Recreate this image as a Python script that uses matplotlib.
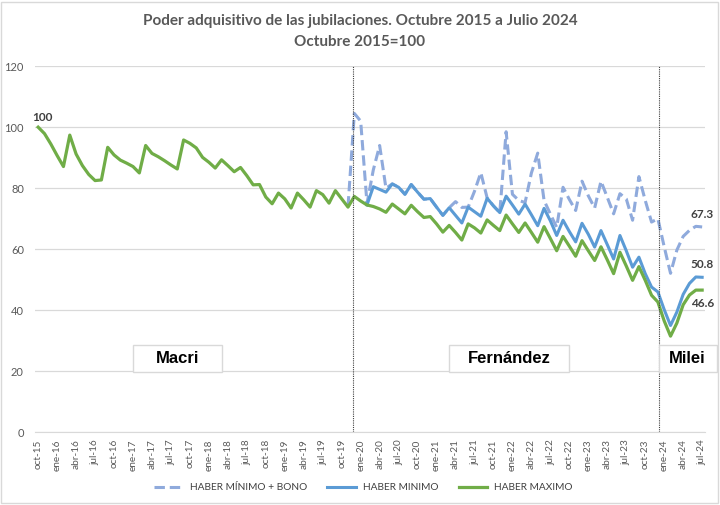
import numpy as np
import matplotlib.pyplot as plt
from matplotlib.patches import Rectangle
from matplotlib.lines import Line2D

# indices: 0 = oct-15 ... 105 = jul-24
haber_maximo = [100, 97.9, 94.5, 90.7, 87.1, 97.4, 91.2, 87.4, 84.5, 82.5,
                82.7, 93.4, 90.9, 89.2, 88.2, 87.1, 85.0, 94.0, 91.4, 90.3,
                89.0, 87.6, 86.3, 95.8, 94.7, 93.2, 90.1, 88.5, 86.6, 89.3,
                87.4, 85.4, 86.8, 84.1, 81.1, 81.2, 77.1, 74.9, 78.4, 76.5,
                73.5, 78.4, 76.2, 73.8, 79.2, 77.9, 75.1, 79.2, 76.5, 73.8,
                77.3, 75.8, 74.5, 74.0, 73.2, 72.1, 74.8, 73.2, 71.6, 74.4,
                72.3, 70.4, 70.7, 68.3, 65.6, 67.8, 65.5, 63.0, 68.3, 67.0,
                65.3, 69.6, 67.8, 66.1, 71.2, 68.3, 65.5, 68.6, 65.5, 62.3,
                67.4, 63.5, 59.5, 64.2, 61.0, 57.7, 62.8, 59.5, 56.3, 60.8,
                56.5, 52.0, 59.0, 54.5, 49.8, 54.3, 49.8, 44.9, 42.7, 36.5,
                31.5, 35.8, 41.8, 45.0, 46.6, 46.6]

# haber minimo, visible from feb-20 (index 52)
inicio_minimo = 52
haber_minimo = [74.5, 80.5, 79.6, 78.7, 81.4, 80.3, 78.0, 81.2, 78.7, 76.4,
                76.6, 73.8, 71.1, 73.6, 71.1, 68.6, 73.8, 72.3, 70.8, 76.7,
                74.2, 72.0, 77.4, 74.5, 71.5, 74.8, 71.3, 67.7, 73.4, 69.3,
                64.5, 69.5, 65.8, 62.4, 68.5, 64.9, 60.7, 66.1, 61.5, 56.8,
                64.5, 59.5, 54.1, 57.4, 52.0, 47.6, 46.0, 40.2, 35.0, 39.4,
                45.2, 48.8, 50.9, 50.8]

# haber minimo + bono, from nov-19 (index 49)
inicio_bono = 49
minimo_bono = [74.0, 104.5, 102.0, 75.0, 86.0, 94.0, 80.0, 81.4, 80.3, 78.0,
               81.2, 78.7, 76.4, 76.6, 73.8, 71.1, 73.6, 75.6, 73.7, 73.8,
               79.0, 85.1, 76.8, 74.2, 72.0, 98.5, 78.0, 76.0, 75.3, 85.0,
               91.5, 76.0, 71.5, 67.2, 80.3, 76.3, 72.7, 82.3, 77.5, 73.5,
               82.3, 77.0, 71.6, 78.2, 76.5, 69.5, 83.8, 76.0, 68.9, 70.0,
               60.8, 52.1, 59.7, 64.2, 66.2, 67.5, 67.3]

meses = ['ene', 'feb', 'mar', 'abr', 'may', 'jun', 'jul', 'ago', 'sep', 'oct', 'nov', 'dic']
etiquetas = [f"{meses[(9 + i) % 12]}-{15 + (9 + i) // 12}" for i in range(len(haber_maximo))]

gobiernos = ['Macri', 'Fernández', 'Milei']

GRIS = '#595959'
VERDE = '#70AD47'
AZUL = '#5B9BD5'
CELESTE = '#8FAADC'

fig = plt.figure(figsize=(7.2, 5.05), dpi=100)
fig.patches.append(Rectangle((0.002, 0.003), 0.995, 0.993, transform=fig.transFigure,
                             fill=False, ec='#D9D9D9', lw=1))
ax = fig.add_axes([0.0486, 0.144, 0.931, 0.725])

x = np.arange(len(haber_maximo))
x_min = np.arange(inicio_minimo, inicio_minimo + len(haber_minimo))
x_bono = np.arange(inicio_bono, inicio_bono + len(minimo_bono))

ax.plot(x_bono, minimo_bono, color=CELESTE, lw=2.2, ls=(0, (3.4, 1.6)),
        label='HABER MÍNIMO + BONO')
ax.plot(x_min, haber_minimo, color=AZUL, lw=2.2, label='HABER MINIMO')
ax.plot(x, haber_maximo, color=VERDE, lw=2.3, label='HABER MAXIMO')

ax.set_xlim(-0.5, len(haber_maximo) - 0.5)
ax.set_ylim(0, 120)
ax.set_yticks(range(0, 121, 20))
ax.grid(axis='y', color='#D9D9D9', lw=0.9)
ax.set_axisbelow(True)
for s in ['top', 'right', 'left']:
    ax.spines[s].set_visible(False)
ax.spines['bottom'].set_color('#D9D9D9')
ax.tick_params(axis='y', length=0, colors=GRIS, labelsize=8, pad=8)
ax.set_xticks(x[::3])
ax.set_xticklabels(etiquetas[::3], rotation=90, fontsize=7.2, color=GRIS)
ax.tick_params(axis='x', length=0, pad=5)
for t in ax.get_yticklabels() + ax.get_xticklabels():
    t.set_family('Lato')

# period separators
for xv in [49.8, 98.1]:
    ax.plot([xv, xv], [0, 120], color='#404040', lw=0.8, ls=(0, (1, 1)))

# period boxes
cajas = [(15.0, 29.1), (65.0, 83.9), (98.1, 107.3)]
for nombre, (x0, x1) in zip(gobiernos, cajas):
    ax.add_patch(Rectangle((x0, 19.8), x1 - x0, 8.9, fc='white', ec='#D9D9D9',
                           lw=1, clip_on=False, zorder=4))
    ax.text((x0 + x1) / 2, 24.2, nombre, ha='center', va='center', fontsize=12,
            fontweight='bold', family='Liberation Sans', color='black', zorder=5)

# data labels
ax.text(x[0] + 0.7, haber_maximo[0] + 1.5, f"{haber_maximo[0]:.0f}", ha='center', va='bottom',
        fontsize=8.5, fontweight='bold', family='Lato', color='#404040')
ax.text(x_bono[-1], minimo_bono[-1] + 2.3, f"{minimo_bono[-1]:.1f}", ha='center', va='bottom',
        fontsize=8.5, fontweight='bold', family='Lato', color='#404040')
ax.text(x_min[-1], haber_minimo[-1] + 2.3, f"{haber_minimo[-1]:.1f}", ha='center', va='bottom',
        fontsize=8.5, fontweight='bold', family='Lato', color='#404040')
ax.text(x[-1], haber_maximo[-1] - 2.6, f"{haber_maximo[-1]:.1f}", ha='center', va='top',
        fontsize=8.5, fontweight='bold', family='Lato', color='#404040')

fig.text(0.5, 0.958, 'Poder adquisitivo de las jubilaciones. Octubre 2015 a Julio 2024',
         ha='center', va='center', fontsize=11, fontweight='bold', family='Lato', color=GRIS)
fig.text(0.5, 0.917, 'Octubre 2015=100', ha='center', va='center', fontsize=11,
         fontweight='bold', family='Lato', color=GRIS)

handles = [Line2D([], [], color=CELESTE, lw=2.2, ls=(0, (3.4, 1.6))),
           Line2D([], [], color=AZUL, lw=2.2),
           Line2D([], [], color=VERDE, lw=2.3)]
fig.legend(handles, ['HABER MÍNIMO + BONO', 'HABER MINIMO', 'HABER MAXIMO'],
           loc='center', bbox_to_anchor=(0.505, 0.034), ncol=3, frameon=False,
           prop={'family': 'Lato', 'size': 7.3}, labelcolor='#404040',
           handlelength=2.8, columnspacing=2.0, handletextpad=0.7)

fig.savefig('out.png', dpi=100)
